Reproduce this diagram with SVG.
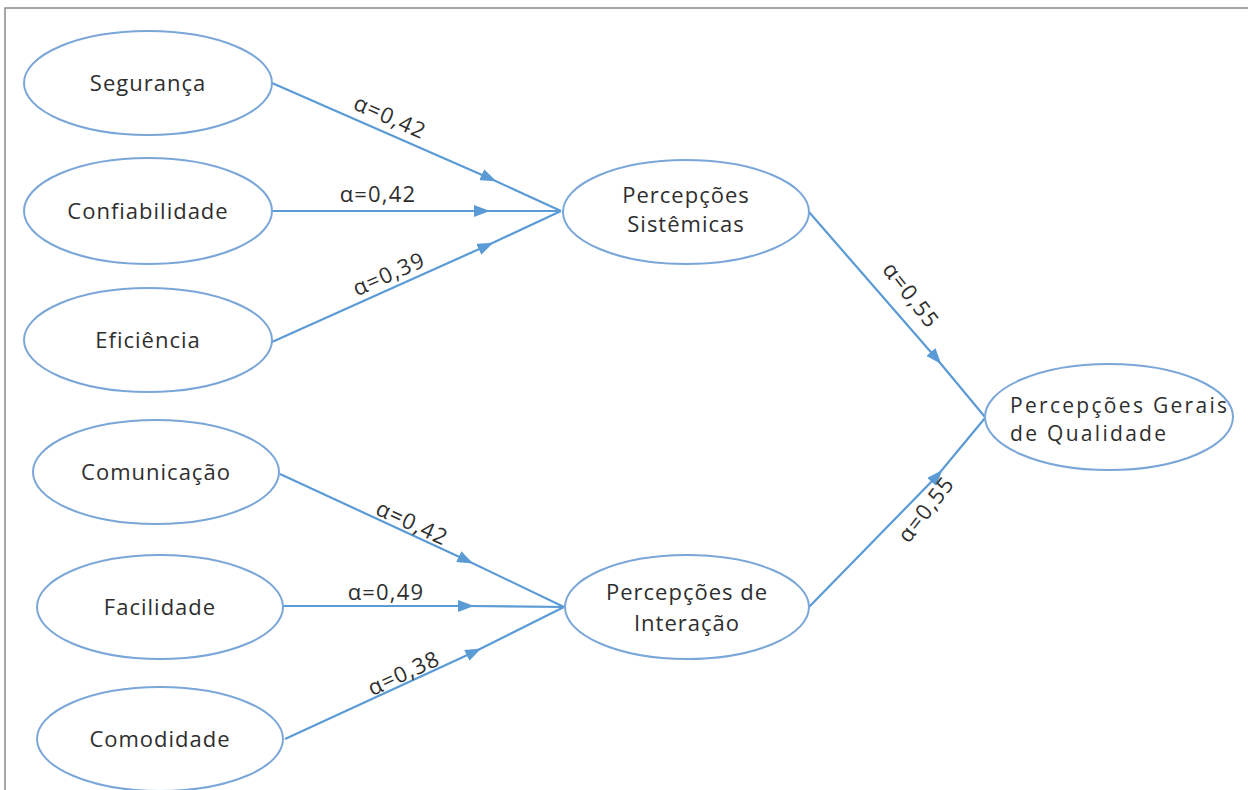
<svg xmlns="http://www.w3.org/2000/svg" width="1248" height="790" viewBox="0 0 1248 790">
<style>
.node ellipse{fill:#fff;stroke:#7aa6d8;stroke-width:2}
.node text{font-family:"Open Sans","Liberation Sans",sans-serif;font-size:22px;letter-spacing:1px;fill:#2e2e2e;text-anchor:middle}
.node text.left{text-anchor:start;font-size:21px;letter-spacing:2.3px}
.conn polyline{fill:none;stroke:#5b9bd5;stroke-width:2.2;marker-mid:url(#arr)}
.lbl{font-family:"Open Sans","Liberation Sans",sans-serif;font-size:22px;letter-spacing:1.2px;fill:#2e2e2e;text-anchor:middle}
</style>
<defs>
<marker id="arr" viewBox="0 0 16 12" refX="8" refY="6" markerWidth="16" markerHeight="12" markerUnits="userSpaceOnUse" orient="auto"><path d="M0,0 L16,6 L0,12 z" fill="#5b9bd5"/></marker>
</defs>
<rect width="1248" height="790" fill="#fff"/>
<path d="M5,790 V8 H1248" fill="none" stroke="#8a8a8a" stroke-width="1.5"/>
<g class="conn" id="connectors">
<polyline points="272,83 489,178 561,211"/>
<polyline points="272,211 482,211 561,211"/>
<polyline points="272,342 486,246 561,211"/>
<polyline points="280,474 466,560 564,607"/>
<polyline points="283,606 466,606 564,607"/>
<polyline points="285,739 474,652 564,607"/>
<polyline points="809,212 936,358 985,417"/>
<polyline points="809,607 937,476 985,418"/>
</g>
<g id="labels">
<text class="lbl" transform="translate(387,124) rotate(24)">α=0,42</text>
<text class="lbl" transform="translate(378,202)">α=0,42</text>
<text class="lbl" transform="translate(392,281) rotate(-24)">α=0,39</text>
<text class="lbl" transform="translate(409,530) rotate(25)">α=0,42</text>
<text class="lbl" transform="translate(386,600)">α=0,49</text>
<text class="lbl" transform="translate(407,680) rotate(-25)">α=0,38</text>
<text class="lbl" transform="translate(905,300) rotate(52)">α=0,55</text>
<text class="lbl" transform="translate(932,514) rotate(-52)">α=0,55</text>
</g>
<g class="node" id="seguranca"><ellipse cx="148" cy="83" rx="124" ry="52"/><text x="148" y="91">Segurança</text></g>
<g class="node" id="confiabilidade"><ellipse cx="148" cy="211" rx="124" ry="53"/><text x="148" y="219">Confiabilidade</text></g>
<g class="node" id="eficiencia"><ellipse cx="148" cy="340" rx="124" ry="52"/><text x="148" y="348">Eficiência</text></g>
<g class="node" id="comunicacao"><ellipse cx="156" cy="472" rx="123" ry="52"/><text x="156" y="480">Comunicação</text></g>
<g class="node" id="facilidade"><ellipse cx="160" cy="607" rx="123" ry="52"/><text x="160" y="615">Facilidade</text></g>
<g class="node" id="comodidade"><ellipse cx="160" cy="739" rx="123" ry="52"/><text x="160" y="747">Comodidade</text></g>
<g class="node" id="sistemicas"><ellipse cx="686" cy="212" rx="123" ry="52"/><text x="686" y="203">Percepções</text><text x="686" y="232">Sistêmicas</text></g>
<g class="node" id="interacao"><ellipse cx="687" cy="607" rx="122" ry="52"/><text x="687" y="600">Percepções de</text><text x="687" y="631">Interação</text></g>
<g class="node" id="gerais"><ellipse cx="1109" cy="417" rx="124" ry="53"/><text class="left" x="1010" y="413">Percepções Gerais</text><text class="left" x="1010" y="441">de Qualidade</text></g>
</svg>
